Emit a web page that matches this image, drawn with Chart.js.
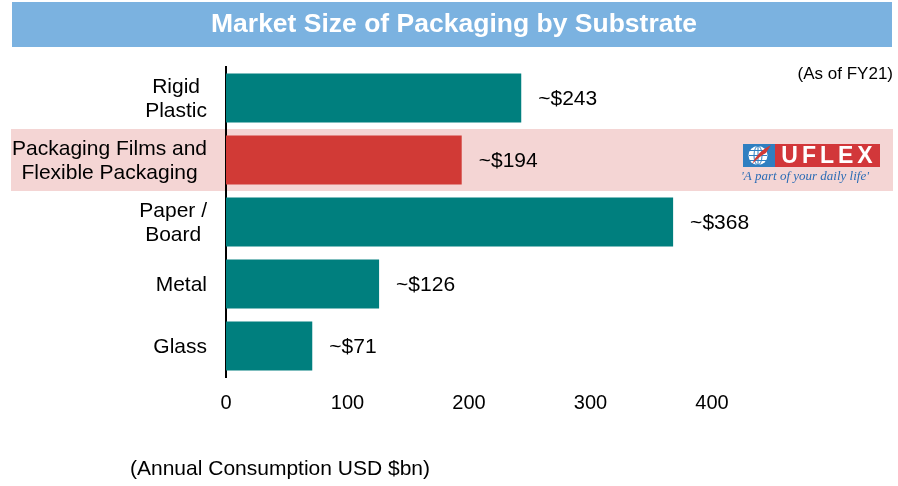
<!DOCTYPE html>
<html><head><meta charset="utf-8">
<script src="https://cdn.jsdelivr.net/npm/chart.js@4.4.0/dist/chart.umd.min.js"></script>
<style>html,body{margin:0;padding:0;background:#fff;}#wrap{position:relative;width:898px;height:486px;}</style>
</head><body><div id="wrap"><canvas id="c" width="898" height="486"></canvas></div>
<script>
const categories = [["Rigid","Plastic"],["Packaging Films and","Flexible Packaging"],["Paper /","Board"],["Metal"],["Glass"]];
const values = [243, 194, 368, 126, 71];
const xTicks = [0, 100, 200, 300, 400];
const highlightIndex = 1;
const titleText = "Market Size of Packaging by Substrate";
const noteText = "(As of FY21)";
const axisTitleText = "(Annual Consumption USD $bn)";
const logoText = "UFLEX";
const taglineText = "'A part of your daily life'";

const FONT = '"Liberation Sans", Arial, sans-serif';
const TEAL = '#007f7e', RED = '#d13a36';
const barColors = values.map((v, i) => i === highlightIndex ? RED : TEAL);

const decor = {
  id: 'decor',
  beforeDraw(chart) {
    const {ctx} = chart; const y = chart.scales.y;
    ctx.save();
    ctx.fillStyle = '#7bb2e0'; ctx.fillRect(12, 2, 880, 45);
    ctx.fillStyle = '#fff'; ctx.font = 'bold 26.5px ' + FONT;
    ctx.textAlign = 'center'; ctx.textBaseline = 'middle';
    ctx.fillText(titleText, 454, 25);
    const step = (y.bottom - y.top) / categories.length;
    const cy = y.getPixelForValue(highlightIndex);
    ctx.fillStyle = '#f4d5d4'; ctx.fillRect(11, cy - step / 2, 882, step);
    ctx.restore();
  },
  afterDatasetsDraw(chart) {
    const {ctx} = chart; const meta = chart.getDatasetMeta(0); const y = chart.scales.y;
    ctx.save();
    ctx.font = '21px ' + FONT; ctx.fillStyle = '#000';
    ctx.textAlign = 'left'; ctx.textBaseline = 'middle';
    meta.data.forEach((bar, i) => ctx.fillText('~$' + values[i], bar.x + 17, bar.y + 1));
    // category labels: lines centred on each other, block right-aligned to the axis
    ctx.textAlign = 'center';
    const right = y.right - 19, lh = 24;
    categories.forEach((lines, i) => {
      const cy = y.getPixelForValue(i);
      const w = Math.max(...lines.map(l => ctx.measureText(l).width));
      lines.forEach((l, j) => ctx.fillText(l, right - w / 2, cy + 1 + (j - (lines.length - 1) / 2) * lh));
    });
    ctx.restore();
  },
  afterDraw(chart) {
    const {ctx} = chart;
    ctx.save();
    ctx.fillStyle = '#000'; ctx.textBaseline = 'middle';
    ctx.font = '17px ' + FONT; ctx.textAlign = 'right';
    ctx.fillText(noteText, 893, 74);
    ctx.font = '21px ' + FONT; ctx.textAlign = 'left';
    ctx.fillText(axisTitleText, 130, 469);
    // logo
    ctx.fillStyle = '#2f7fc1'; ctx.fillRect(743, 144, 32, 23);
    ctx.fillStyle = '#fff';
    ctx.beginPath(); ctx.arc(758, 155.5, 9.5, 0, Math.PI * 2); ctx.fill();
    ctx.strokeStyle = '#2f7fc1'; ctx.lineWidth = 1;
    ctx.beginPath(); ctx.ellipse(758, 155.5, 4, 9.5, 0, 0, Math.PI * 2); ctx.stroke();
    ctx.beginPath(); ctx.moveTo(758, 146); ctx.lineTo(758, 165); ctx.stroke();
    [-5, 0, 5].forEach(d => { ctx.beginPath(); ctx.moveTo(749, 155.5 + d); ctx.lineTo(767, 155.5 + d); ctx.stroke(); });
    ctx.fillStyle = RED;
    ctx.beginPath(); ctx.moveTo(752, 164); ctx.quadraticCurveTo(757, 152, 771, 145);
    ctx.lineTo(766, 153); ctx.quadraticCurveTo(760, 156, 752, 164); ctx.fill();
    ctx.fillStyle = '#d2373a'; ctx.fillRect(775, 144, 105, 23);
    ctx.fillStyle = '#fff'; ctx.font = 'bold 23px ' + FONT; ctx.textAlign = 'center';
    ctx.letterSpacing = '4px';
    ctx.fillText(logoText, 829, 156.5);
    ctx.letterSpacing = '0px';
    ctx.fillStyle = '#2b6cb5'; ctx.font = 'italic 13px "Liberation Serif", serif'; ctx.textAlign = 'left';
    ctx.fillText(taglineText, 741, 177, 137);
    ctx.restore();
  }
};

new Chart(document.getElementById('c'), {
  type: 'bar',
  data: {
    labels: categories,
    datasets: [{ data: values, backgroundColor: barColors, borderWidth: 0, barPercentage: 0.79, categoryPercentage: 1 }]
  },
  options: {
    indexAxis: 'y', responsive: false, animation: false, devicePixelRatio: 1,
    layout: { padding: { left: 0, right: 186, top: 67, bottom: 69 } },
    plugins: { legend: { display: false }, tooltip: { enabled: false }, title: { display: false } },
    scales: {
      x: {
        type: 'linear', min: 0, max: 400,
        afterBuildTicks: s => { s.ticks = xTicks.map(v => ({ value: v })); },
        afterFit: s => { s.height = 40; },
        grid: { display: false }, border: { display: false },
        ticks: { color: '#000', padding: 6, font: { family: FONT, size: 20 } }
      },
      y: {
        afterFit: s => { s.width = 226; },
        grid: { display: false }, border: { display: true, color: '#000', width: 2 },
        ticks: { display: false, font: { family: FONT, size: 21 } }
      }
    }
  },
  plugins: [decor]
});
</script></body></html>
